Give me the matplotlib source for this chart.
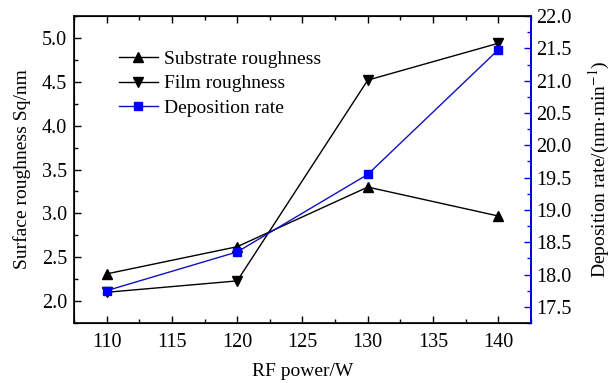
import matplotlib
matplotlib.use('Agg')
import matplotlib.pyplot as plt
from matplotlib.ticker import MultipleLocator

plt.rcParams['font.family'] = ['Liberation Serif', 'DejaVu Serif']
plt.rcParams['mathtext.fontset'] = 'stix'

power = [110, 120, 130, 140]
substrate = [2.31, 2.62, 3.30, 2.97]
film = [2.10, 2.23, 4.52, 4.94]
deposition = [17.75, 18.35, 19.55, 21.48]

fig = plt.figure(figsize=(6.13, 3.83), dpi=100)
ax = fig.add_axes([0.1207, 0.1567, 0.7455, 0.8013])
ax2 = ax.twinx()

l1, = ax.plot(power, substrate, color='black', lw=1, marker='^', ms=7, label='Substrate roughness')
l2, = ax.plot(power, film, color='black', lw=1, marker='v', ms=7, label='Film roughness')
l3, = ax2.plot(power, deposition, color='#1010c0', lw=1, marker='s', ms=6,
               mfc='#0000ff', mec='#0000ff', label='Deposition rate')

ax.set_xlim(107.5, 142.5)
ax.set_ylim(1.75, 5.25)
ax2.set_ylim(17.25, 22.0)

ax.xaxis.set_major_locator(MultipleLocator(5))
ax.xaxis.set_minor_locator(MultipleLocator(2.5))
ax.yaxis.set_major_locator(MultipleLocator(0.5))
ax.yaxis.set_minor_locator(MultipleLocator(0.25))
ax2.yaxis.set_major_locator(MultipleLocator(0.5))
ax2.yaxis.set_minor_locator(MultipleLocator(0.25))

ax.tick_params(which='both', direction='in', top=True, labelsize=14.5, width=1)
ax.tick_params(which='major', length=5)
ax.tick_params(which='minor', length=3)
ax.tick_params(axis='y', which='both', right=False, pad=5)
ax.tick_params(axis='x', pad=7)
ax2.tick_params(which='both', direction='in', colors='#0000ff', labelcolor='black', labelsize=14.5, width=1)
ax2.tick_params(which='major', length=5)
ax2.tick_params(which='minor', length=3)

for s in ax.spines.values():
    s.set_linewidth(1.2)
ax2.spines['right'].set_color('#0000ff')
ax2.spines['right'].set_linewidth(1.2)

ax.set_xlabel('RF power/W', fontsize=14, labelpad=8)
ax.set_ylabel('Surface roughness Sq/nm', fontsize=14, labelpad=8)
ax2.set_ylabel(r'Deposition rate/(nm$\cdot$min$^{-1}$)', fontsize=14, labelpad=11)

ax.legend(handles=[l1, l2, l3], loc='upper left', bbox_to_anchor=(0.06, 0.945),
          frameon=False, fontsize=14, handlelength=2.0, labelspacing=0.35, handletextpad=0.3)

fig.savefig('out.png', dpi=100)
